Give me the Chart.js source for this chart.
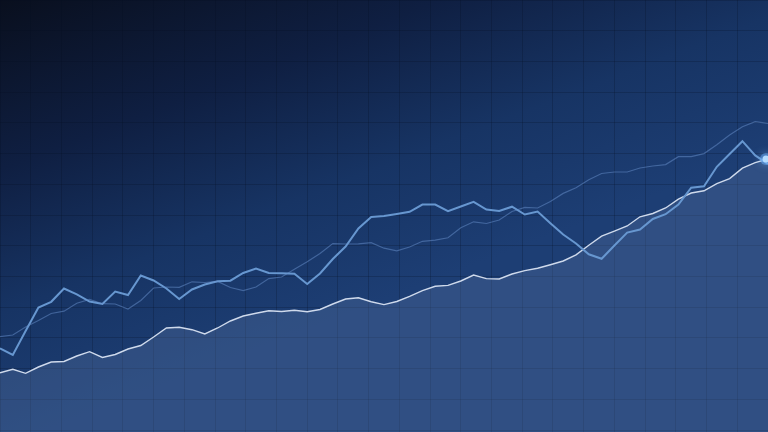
<!DOCTYPE html>
<html>
<head>
<meta charset="utf-8">
<script src="https://cdn.jsdelivr.net/npm/chart.js@4/dist/chart.umd.min.js"></script>
<style>
  html, body { margin: 0; padding: 0; background: #0b1224; }
  #wrap { width: 768px; height: 432px; }
</style>
</head>
<body>
<div id="wrap"><canvas id="trendChart" width="768" height="432"></canvas></div>
<script>
// 61 sample steps across the width
const steps = Array.from({ length: 61 }, (_, i) => 'D' + (i + 1));

// lower filled series (pale white line)
const baseSeries = [59.3, 62.7, 58.7, 65, 70, 70.5, 76, 80.3, 74.5, 77.5,
    83, 86.5, 95, 104, 104.7, 102.3, 98, 104, 111, 116,
    118.7, 121.2, 120.5, 121.7, 120.2, 122.5, 128, 133, 134.2, 130.3,
    127.4, 130.5, 135.7, 141.4, 145.7, 146.6, 151, 157, 153.4, 153,
    158, 161.4, 163.7, 167.2, 171, 177.1, 186.8, 195.8, 200.8, 206,
    215.2, 218.5, 224, 232.8, 239, 241.2, 248.3, 253.4, 263.8, 269.3, 273];

// jagged bright blue series
const brightSeries = [83.7, 77, 101, 124.5, 130.2, 143.5, 137.7, 130.5, 128, 140.5,
    137, 156.5, 151.5, 143.5, 133, 142.5, 147.5, 150.7, 151.3, 159,
    163.5, 159, 158.7, 158.3, 148, 158.5, 173, 185.5, 203.5, 215,
    215.9, 218, 220.2, 227.4, 227.5, 220.8, 225.5, 230.1, 222.4, 221,
    225.3, 217.5, 220.5, 208.8, 197.5, 188.5, 177.7, 173.2, 186.5, 199.4,
    202.5, 213, 217.8, 227.5, 244.3, 245.8, 265.2, 278, 290.8, 276.6, 268];

// faint thin series
const faintSeries = [95.3, 97, 105, 111.5, 118.5, 120.8, 128.7, 132.6, 128.3, 128,
    123, 131.5, 144, 145, 144.7, 150.2, 149.5, 150.6, 144.5, 141.4,
    145, 153.4, 155, 162.7, 170.2, 178.5, 188.4, 188, 188.2, 189.4,
    183.8, 181.2, 185, 190.7, 191.8, 194.2, 204.3, 210.2, 208.5, 212,
    220.5, 224.6, 224, 230.5, 238.6, 244.2, 252.3, 258.5, 260, 260,
    264, 266, 267.4, 275.3, 275.3, 278.4, 287.2, 297, 305.2, 310.3, 308.7];

const cell = 768 / 25;
const gridColor = 'rgba(6, 14, 34, 0.22)';

const backdrop = {
    id: 'backdrop',
    beforeDraw(chart) {
        const c = chart.ctx;
        c.save();
        const g = c.createLinearGradient(0, 0, 150, 390);
        g.addColorStop(0, '#090f1e');
        g.addColorStop(0.38, '#0f1f42');
        g.addColorStop(0.7, '#173464');
        g.addColorStop(1, '#1d3e74');
        c.fillStyle = g;
        c.fillRect(0, 0, chart.width, chart.height);
        c.restore();
    }
};

// glowing dot on the last point of the filled series
const endDot = {
    id: 'endDot',
    afterDatasetsDraw(chart) {
        const meta = chart.getDatasetMeta(2);
        const pt = meta.data[meta.data.length - 1];
        if (!pt) return;
        const c = chart.ctx;
        c.save();
        c.shadowColor = 'rgba(140, 200, 255, 0.9)';
        c.shadowBlur = 8;
        c.fillStyle = 'rgba(110, 180, 255, 0.45)';
        c.beginPath();
        c.arc(pt.x - 2, pt.y, 6, 0, Math.PI * 2);
        c.fill();
        c.shadowBlur = 0;
        c.fillStyle = '#b4dcff';
        c.beginPath();
        c.arc(pt.x - 2, pt.y, 3.5, 0, Math.PI * 2);
        c.fill();
        c.restore();
    }
};

const ctx = document.getElementById('trendChart').getContext('2d');

new Chart(ctx, {
    type: 'line',
    data: {
        labels: steps,
        datasets: [
            {
                data: faintSeries,
                borderColor: 'rgba(105, 145, 205, 0.5)',
                borderWidth: 1.2,
                pointRadius: 0,
                tension: 0,
                fill: false
            },
            {
                data: brightSeries,
                borderColor: '#6797d0',
                borderWidth: 2,
                pointRadius: 0,
                tension: 0,
                fill: false
            },
            {
                data: baseSeries,
                borderColor: '#cfdaec',
                borderWidth: 1.4,
                backgroundColor: 'rgba(82, 110, 158, 0.36)',
                fill: 'origin',
                tension: 0,
                pointRadius: 0
            }
        ]
    },
    options: {
        responsive: false,
        animation: false,
        events: [],
        layout: { padding: -1 },
        plugins: {
            legend: { display: false },
            tooltip: { enabled: false }
        },
        scales: {
            x: {
                display: false,
                offset: false
            },
            gx: {
                type: 'linear',
                position: 'bottom',
                min: 0,
                max: 768,
                afterBuildTicks: (s) => {
                    s.ticks = Array.from({ length: 26 }, (_, k) => ({ value: k * cell }));
                },
                ticks: { display: false },
                border: { display: false },
                grid: { color: gridColor, lineWidth: 1, drawTicks: false }
            },
            y: {
                min: 0,
                max: 432,
                afterBuildTicks: (s) => {
                    s.ticks = Array.from({ length: 15 }, (_, k) => ({ value: 432 - k * cell }));
                },
                ticks: { display: false },
                border: { display: false },
                grid: { color: gridColor, lineWidth: 1, drawTicks: false }
            }
        }
    },
    plugins: [backdrop, endDot]
});
</script>
</body>
</html>
